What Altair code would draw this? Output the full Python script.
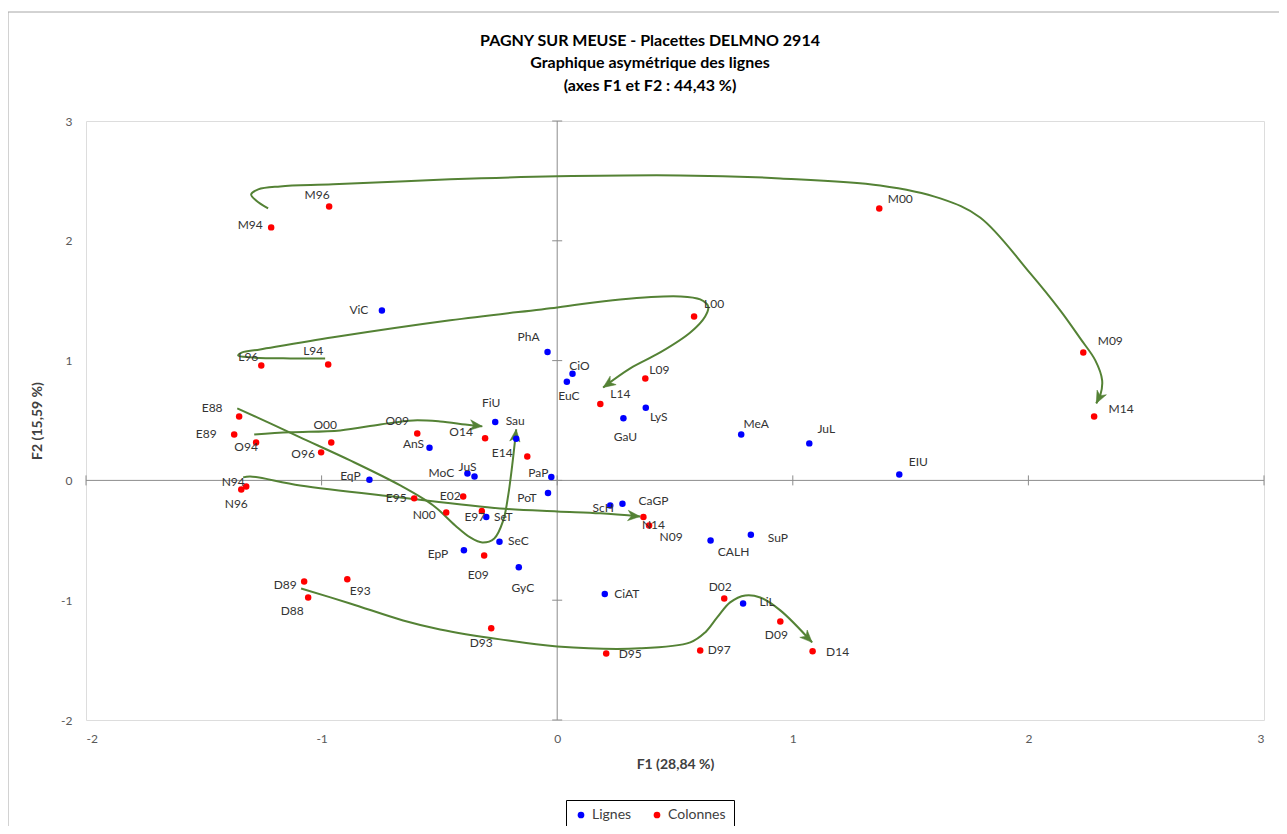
import math
import altair as alt
import pandas as pd

# ---------------- data ----------------
col_names = ["M94", "M96", "M00", "M09", "M14",
             "L94", "L96", "L00", "L09", "L14",
             "E88", "E89", "E93", "E95", "E97", "E02", "E09", "E14",
             "O94", "O96", "O00", "O09", "O14",
             "N94", "N96", "N00", "N09", "N14",
             "D88", "D89", "D93", "D95", "D97", "D02", "D09", "D14"]
col_x = [-1.214, -0.968, 1.367, 2.233, 2.279,
         -0.972, -1.256, 0.581, 0.374, 0.183,
         -1.350, -1.371, -0.891, -0.607, -0.320, -0.399, -0.310, -0.127,
         -1.278, -1.002, -0.959, -0.594, -0.306,
         -1.320, -1.341, -0.471, 0.390, 0.366,
         -1.057, -1.074, -0.280, 0.208, 0.607, 0.709, 0.947, 1.084]
col_y = [2.112, 2.287, 2.270, 1.068, 0.534,
         0.968, 0.960, 1.369, 0.851, 0.637,
         0.534, 0.384, -0.826, -0.150, -0.256, -0.134, -0.626, 0.200,
         0.317, 0.234, 0.317, 0.392, 0.351,
         -0.050, -0.075, -0.267, -0.376, -0.306,
         -0.977, -0.843, -1.235, -1.444, -1.419, -0.985, -1.177, -1.427]

lig_names = ["ViC", "PhA", "CiO", "EuC", "FiU", "Sau", "AnS", "EqP", "MoC",
             "JuS", "PaP", "PoT", "SeT", "SeC", "EpP", "GyC", "LyS", "GaU",
             "MeA", "JuL", "EIU", "ScH", "CaGP", "CALH", "SuP", "CiAT", "LiL"]
lig_x = [-0.744, -0.041, 0.065, 0.041, -0.263, -0.174, -0.542, -0.797, -0.381,
         -0.351, -0.025, -0.039, -0.301, -0.245, -0.396, -0.163, 0.376, 0.281,
         0.781, 1.070, 1.452, 0.225, 0.277, 0.651, 0.822, 0.202, 0.789]
lig_y = [1.419, 1.071, 0.891, 0.824, 0.487, 0.348, 0.273, 0.006, 0.058,
         0.033, 0.028, -0.106, -0.306, -0.512, -0.584, -0.724, 0.607, 0.518,
         0.384, 0.309, 0.050, -0.209, -0.194, -0.501, -0.453, -0.949, -1.027]

# trajectory annotation curves (data units)
curve_M_x = [-1.227, -1.278, -1.299, -1.269, -1.176, -0.951, -0.454, 0.0, 0.522, 0.947,
             1.371, 1.626, 1.795, 2.008, 2.135, 2.220, 2.284, 2.313, 2.305, 2.288]
curve_M_y = [2.270, 2.337, 2.387, 2.429, 2.454, 2.471, 2.513, 2.538, 2.546, 2.521,
             2.462, 2.354, 2.195, 1.728, 1.419, 1.185, 1.002, 0.835, 0.710, 0.643]
curve_L_x = [-0.985, -1.133, -1.303, -1.354, -1.337, -1.261, -0.951, -0.454, 0.0, 0.267,
             0.522, 0.607, 0.641, 0.628, 0.565, 0.437, 0.310, 0.195]
curve_L_y = [1.018, 1.018, 1.027, 1.043, 1.068, 1.093, 1.194, 1.336, 1.444, 1.511,
             1.536, 1.511, 1.452, 1.369, 1.235, 1.068, 0.935, 0.776]
curve_E_x = [-1.358, -1.218, -1.091, -0.879, -0.666, -0.526, -0.433, -0.369, -0.318,
             -0.267, -0.229, -0.208, -0.191, -0.174]
curve_E_y = [0.601, 0.476, 0.359, 0.167, -0.042, -0.209, -0.376, -0.476, -0.518,
             -0.484, -0.334, -0.125, 0.125, 0.426]
curve_O_x = [-1.286, -1.133, -0.921, -0.751, -0.611, -0.497, -0.390, -0.318]
curve_O_y = [0.384, 0.401, 0.417, 0.467, 0.501, 0.492, 0.467, 0.451]
curve_N_x = [-1.333, -1.303, -1.091, -0.666, -0.242, 0.0, 0.183, 0.352]
curve_N_y = [0.025, 0.033, -0.042, -0.142, -0.234, -0.259, -0.275, -0.301]
curve_D_x = [-1.087, -0.879, -0.654, -0.497, -0.242, 0.0, 0.352, 0.565, 0.628, 0.679,
             0.734, 0.798, 0.862, 0.947, 1.082]
curve_D_y = [-0.902, -1.027, -1.169, -1.244, -1.327, -1.386, -1.402, -1.352, -1.269,
             -1.144, -1.018, -0.960, -0.977, -1.085, -1.352]

axis_ticks = [-2, -1, 0, 1, 2, 3]

title_lines = ["PAGNY SUR MEUSE - Placettes DELMNO 2914",
               "Graphique asymétrique des lignes",
               "(axes F1 et F2 : 44,43 %)"]

# ---------------- label placement (pixel offsets, style only) ----------------
label_offsets = {
    "M96": (-12, -11), "M94": (-21, -2), "M00": (21, -9), "L00": (20, -12),
    "M09": (27, -11), "M14": (27, -7), "L96": (-13, -8), "L94": (-15, -13),
    "L09": (14, -8), "L14": (20, -10), "E88": (-27, -8), "E89": (-28, 0),
    "O94": (-10, 5), "O00": (-6, -17), "O96": (-18, 2), "O09": (-20, -12),
    "O14": (-24, -6), "E14": (-25, -3), "N94": (-13, -4), "N96": (-5, 15),
    "E95": (-18, 0), "E02": (-13, 0), "N00": (-22, 3), "E97": (-7, 6),
    "E09": (-6, 20), "D89": (-19, 4), "E93": (13, 12), "D88": (-16, 14),
    "D93": (-10, 15), "D95": (24, 1), "D97": (19, 0), "D02": (-4, -11),
    "D09": (-4, 14), "D14": (25, 1), "N14": (10, 8), "N09": (22, 12),
    "ViC": (-23, 0), "PhA": (-19, -15), "CiO": (7, -8), "EuC": (2, 14),
    "FiU": (-4, -19), "Sau": (-1, -18), "AnS": (-16, -4), "EqP": (-19, -4),
    "MoC": (-26, 0), "JuS": (-7, -9), "PaP": (-13, -4), "PoT": (-21, 5),
    "SeT": (17, 0), "SeC": (19, -1), "EpP": (-26, 4), "GyC": (4, 21),
    "LyS": (13, 9), "GaU": (2, 19), "MeA": (15, -10), "JuL": (17, -14),
    "EIU": (19, -12), "ScH": (-7, 3), "CaGP": (31, -3), "CALH": (23, 12),
    "SuP": (27, 3), "CiAT": (22, 0), "LiL": (24, -1),
}

# ---------------- geometry ----------------
W, H = 1178, 599
XMIN, XMAX, YMIN, YMAX = -2, 3, -2, 3
PX = W / (XMAX - XMIN)
PY = H / (YMAX - YMIN)
FONT = "Lato"
GREEN = "#548235"

pts = pd.concat([
    pd.DataFrame({"name": lig_names, "x": lig_x, "y": lig_y, "type": "Lignes"}),
    pd.DataFrame({"name": col_names, "x": col_x, "y": col_y, "type": "Colonnes"}),
], ignore_index=True)
pts["lx"] = [x + label_offsets[n][0] / PX for n, x in zip(pts["name"], pts["x"])]
pts["ly"] = [y - label_offsets[n][1] / PY for n, y in zip(pts["name"], pts["y"])]

curves = {"M": (curve_M_x, curve_M_y), "L": (curve_L_x, curve_L_y),
          "E": (curve_E_x, curve_E_y), "O": (curve_O_x, curve_O_y),
          "N": (curve_N_x, curve_N_y), "D": (curve_D_x, curve_D_y)}
rows, heads = [], []
for k, (cx, cy) in curves.items():
    for i, (a, b) in enumerate(zip(cx, cy)):
        rows.append({"curve": k, "i": i, "x": a, "y": b})
    dxp = (cx[-1] - cx[-2]) * PX
    dyp = -(cy[-1] - cy[-2]) * PY
    ang = math.degrees(math.atan2(dyp, dxp)) % 360
    heads.append({"curve": k, "x": cx[-1], "y": cy[-1], "angle": ang})
curve_df = pd.DataFrame(rows)
head_df = pd.DataFrame(heads)

xs = alt.Scale(domain=[XMIN, XMAX], nice=False, zero=False)
ys = alt.Scale(domain=[YMIN, YMAX], nice=False, zero=False)

xaxis = alt.Axis(values=axis_ticks, grid=False, domain=False, ticks=False,
                 labelExpr="'' + datum.value",
                 labelPadding=13, labelFontSize=12, labelColor="#595959",
                 labelFont=FONT, title="F1 (28,84 %)", titleFont=FONT,
                 titleFontSize=14, titleFontWeight="bold", titleColor="#404040",
                 titlePadding=13)
yaxis = alt.Axis(values=axis_ticks, grid=False, domain=False, ticks=False,
                 labelExpr="'' + datum.value",
                 labelPadding=14, labelFontSize=12, labelColor="#595959",
                 labelFont=FONT, title="F2 (15,59 %)", titleFont=FONT,
                 titleFontSize=14, titleFontWeight="bold", titleColor="#404040",
                 titlePadding=16)

frame = alt.Chart(pd.DataFrame({"a": [0]})).mark_rect(
    filled=False, stroke="#A6A6A6", strokeWidth=1
).encode(x=alt.value(-78), x2=alt.value(W + 60), y=alt.value(-109), y2=alt.value(H + 140))

title_layers = []
for line, ypos in zip(title_lines, [-80, -58, -35]):
    title_layers.append(
        alt.Chart(pd.DataFrame({"t": [line]})).mark_text(
            font=FONT, fontSize=16, fontWeight="bold", color="#000000",
            align="center", baseline="middle"
        ).encode(x=alt.value(564), y=alt.value(ypos), text="t:N")
    )

tick_df = pd.DataFrame({"v": axis_ticks, "z": [0] * len(axis_ticks)})
zero_x = alt.Chart(pd.DataFrame({"v": [0]})).mark_rule(color="#8C8C8C", strokeWidth=1).encode(
    x=alt.X("v:Q", scale=xs, axis=xaxis))
zero_y = alt.Chart(pd.DataFrame({"v": [0]})).mark_rule(color="#8C8C8C", strokeWidth=1).encode(
    y=alt.Y("v:Q", scale=ys, axis=yaxis))
xticks = alt.Chart(tick_df).mark_point(
    shape="M0,-1L0,1", size=100, filled=False, stroke="#8C8C8C", strokeWidth=1, opacity=1
).encode(x=alt.X("v:Q", scale=xs), y=alt.Y("z:Q", scale=ys))
yticks = alt.Chart(tick_df).mark_point(
    shape="M-1,0L1,0", size=100, filled=False, stroke="#8C8C8C", strokeWidth=1, opacity=1
).encode(x=alt.X("z:Q", scale=xs), y=alt.Y("v:Q", scale=ys))

lines = alt.Chart(curve_df).mark_line(
    color=GREEN, strokeWidth=2, interpolate="catmull-rom"
).encode(x=alt.X("x:Q", scale=xs), y=alt.Y("y:Q", scale=ys),
         detail="curve:N", order="i:Q")

arrows = alt.Chart(head_df).mark_point(
    shape="M0,0L-2,-0.85L-1.4,0L-2,0.85Z", size=150, filled=True,
    fill=GREEN, stroke=GREEN, strokeWidth=0.5, opacity=1
).encode(x=alt.X("x:Q", scale=xs), y=alt.Y("y:Q", scale=ys),
         angle=alt.Angle("angle:Q", scale=None))

points = alt.Chart(pts).mark_circle(size=42, opacity=1).encode(
    x=alt.X("x:Q", scale=xs), y=alt.Y("y:Q", scale=ys),
    color=alt.Color("type:N",
                    scale=alt.Scale(domain=["Lignes", "Colonnes"], range=["#0000FF", "#FF0000"]),
                    legend=alt.Legend(title=None, orient="none", legendX=480, legendY=679,
                                      direction="horizontal", strokeColor="#000000",
                                      padding=8, labelFont=FONT, labelFontSize=14,
                                      labelColor="#404040", symbolType="circle",
                                      symbolSize=45, symbolStrokeWidth=0,
                                      columnPadding=18, labelOffset=4)))

labels = alt.Chart(pts).mark_text(
    font=FONT, fontSize=12, color="#333333", align="center", baseline="middle"
).encode(x=alt.X("lx:Q", scale=xs), y=alt.Y("ly:Q", scale=ys), text="name:N")

chart = alt.layer(frame, *title_layers, zero_x, zero_y, xticks, yticks, lines, arrows,
                  points, labels).properties(
    width=W, height=H,
    autosize=alt.AutoSizeParams(type="none"),
    padding={"left": 78, "top": 113, "right": 15, "bottom": 106},
).configure_view(stroke="#D9D9D9", strokeWidth=1).configure(background="white")

chart.save("out.html", embed_options={"renderer": "svg", "actions": False})
